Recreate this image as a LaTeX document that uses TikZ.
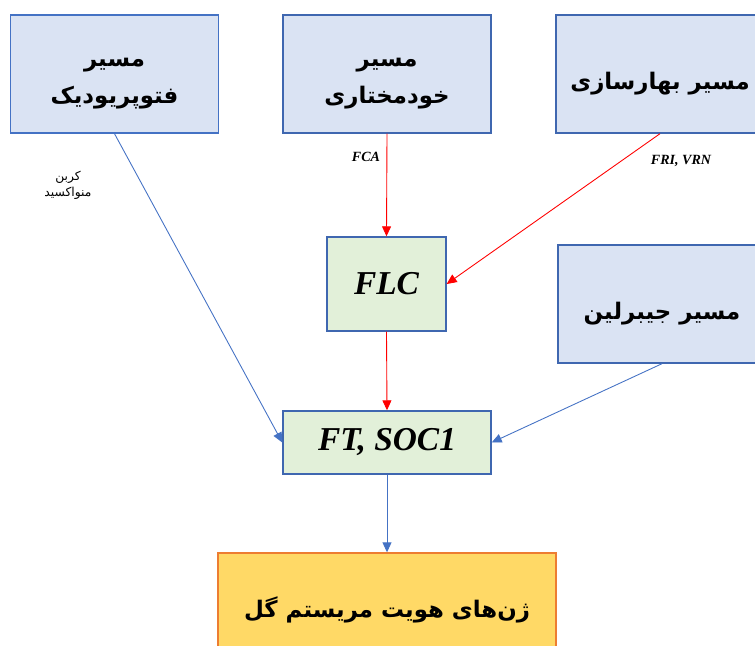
\documentclass[tikz,border=0pt]{standalone}
\usepackage{fontspec}
\setmainfont{Liberation Serif}
\newfontfamily\arabicfont[Script=Arabic]{DejaVu Sans}
\TeXXeTstate=1
\usepackage{tikz}
\usetikzlibrary{arrows.meta,positioning}

\definecolor{pathfill}{HTML}{DAE3F3}
\definecolor{pathline}{HTML}{3F67B0}
\definecolor{genefill}{HTML}{E2F0D9}
\definecolor{flowerfill}{HTML}{FFD966}
\definecolor{flowerline}{HTML}{ED7D31}
\definecolor{signalblue}{HTML}{4472C4}

% lowered text block for the pathway boxes
\newcommand{\pathtext}[2][-0.16cm]{\raisebox{#1}[\height][\depth]{\begin{tabular}{@{}c@{}}#2\end{tabular}}}

\begin{document}
\begin{tikzpicture}[x=0.02cm,y=-0.02cm,
  pathbox/.style={draw=pathline, fill=pathfill, line width=0.8pt, minimum width=4.16cm, minimum height=2.36cm, inner sep=1pt, align=center, font=\arabicfont\bfseries\fontsize{13}{21}\selectfont},
  genebox/.style={draw=pathline, fill=genefill, line width=0.8pt, font=\bfseries\itshape\fontsize{19}{23}\selectfont},
  flowerbox/.style={draw=flowerline, fill=flowerfill, line width=0.8pt, minimum width=6.76cm, minimum height=2.28cm, font=\arabicfont\bfseries\fontsize{13}{21}\selectfont},
  activ/.style={draw=red, line width=0.5pt, -{Triangle[length=2mm,width=1.8mm]}},
  signal/.style={draw=signalblue, line width=0.5pt, -{Triangle[length=2mm,width=1.8mm]}},
  lbl/.style={font=\bfseries\itshape\fontsize{8}{9}\selectfont},
  ]
  \clip (0,0) rectangle (755,646);

  % pathways
  \node[pathbox, draw=signalblue] (photo) at (114.5,74) {\pathtext[-0.08cm]{\beginR مسیر\endR\\ \beginR فتوپریودیک\endR}};
  \node[pathbox] (auto) at (387,74) {\pathtext[-0.08cm]{\beginR مسیر\endR\\ \beginR خودمختاری\endR}};
  \node[pathbox] (vern) at (660,74) {\pathtext{\beginR مسیر بهارسازی\endR}};
  \node[pathbox] (gib) at (662,304) {\pathtext{\beginR مسیر جیبرلین\endR}};

  % genes
  \node[genebox, minimum width=2.38cm, minimum height=1.88cm] (flc) at (386.5,284) {FLC};
  \node[genebox, minimum width=4.16cm, minimum height=1.26cm] (ft) at (387,442.5) {FT, SOC1};
  \node[flowerbox] (flower) at (387,610) {\beginR ژن‌های هویت مریستم گل\endR};

  % connections
  \draw[signal] (photo.south) -- (ft.west);
  \draw[activ] (auto.south) -- (flc.north);
  \draw[activ] (vern.south) -- (flc.east);
  \draw[activ] (flc.south) -- (ft.north);
  \draw[signal] (gib.south) -- (ft.east);
  \draw[signal] (ft.south) -- (flower.north);

  % labels
  \node[align=center, font=\arabicfont\fontsize{7}{9}\selectfont] (co) at (68,185) {\beginR کربن\endR\\ \beginR منواکسید\endR};
  \node[lbl] (fca) at (366,157) {FCA};
  \node[lbl] (fri) at (681,161) {FRI, VRN};
\end{tikzpicture}
\end{document}
